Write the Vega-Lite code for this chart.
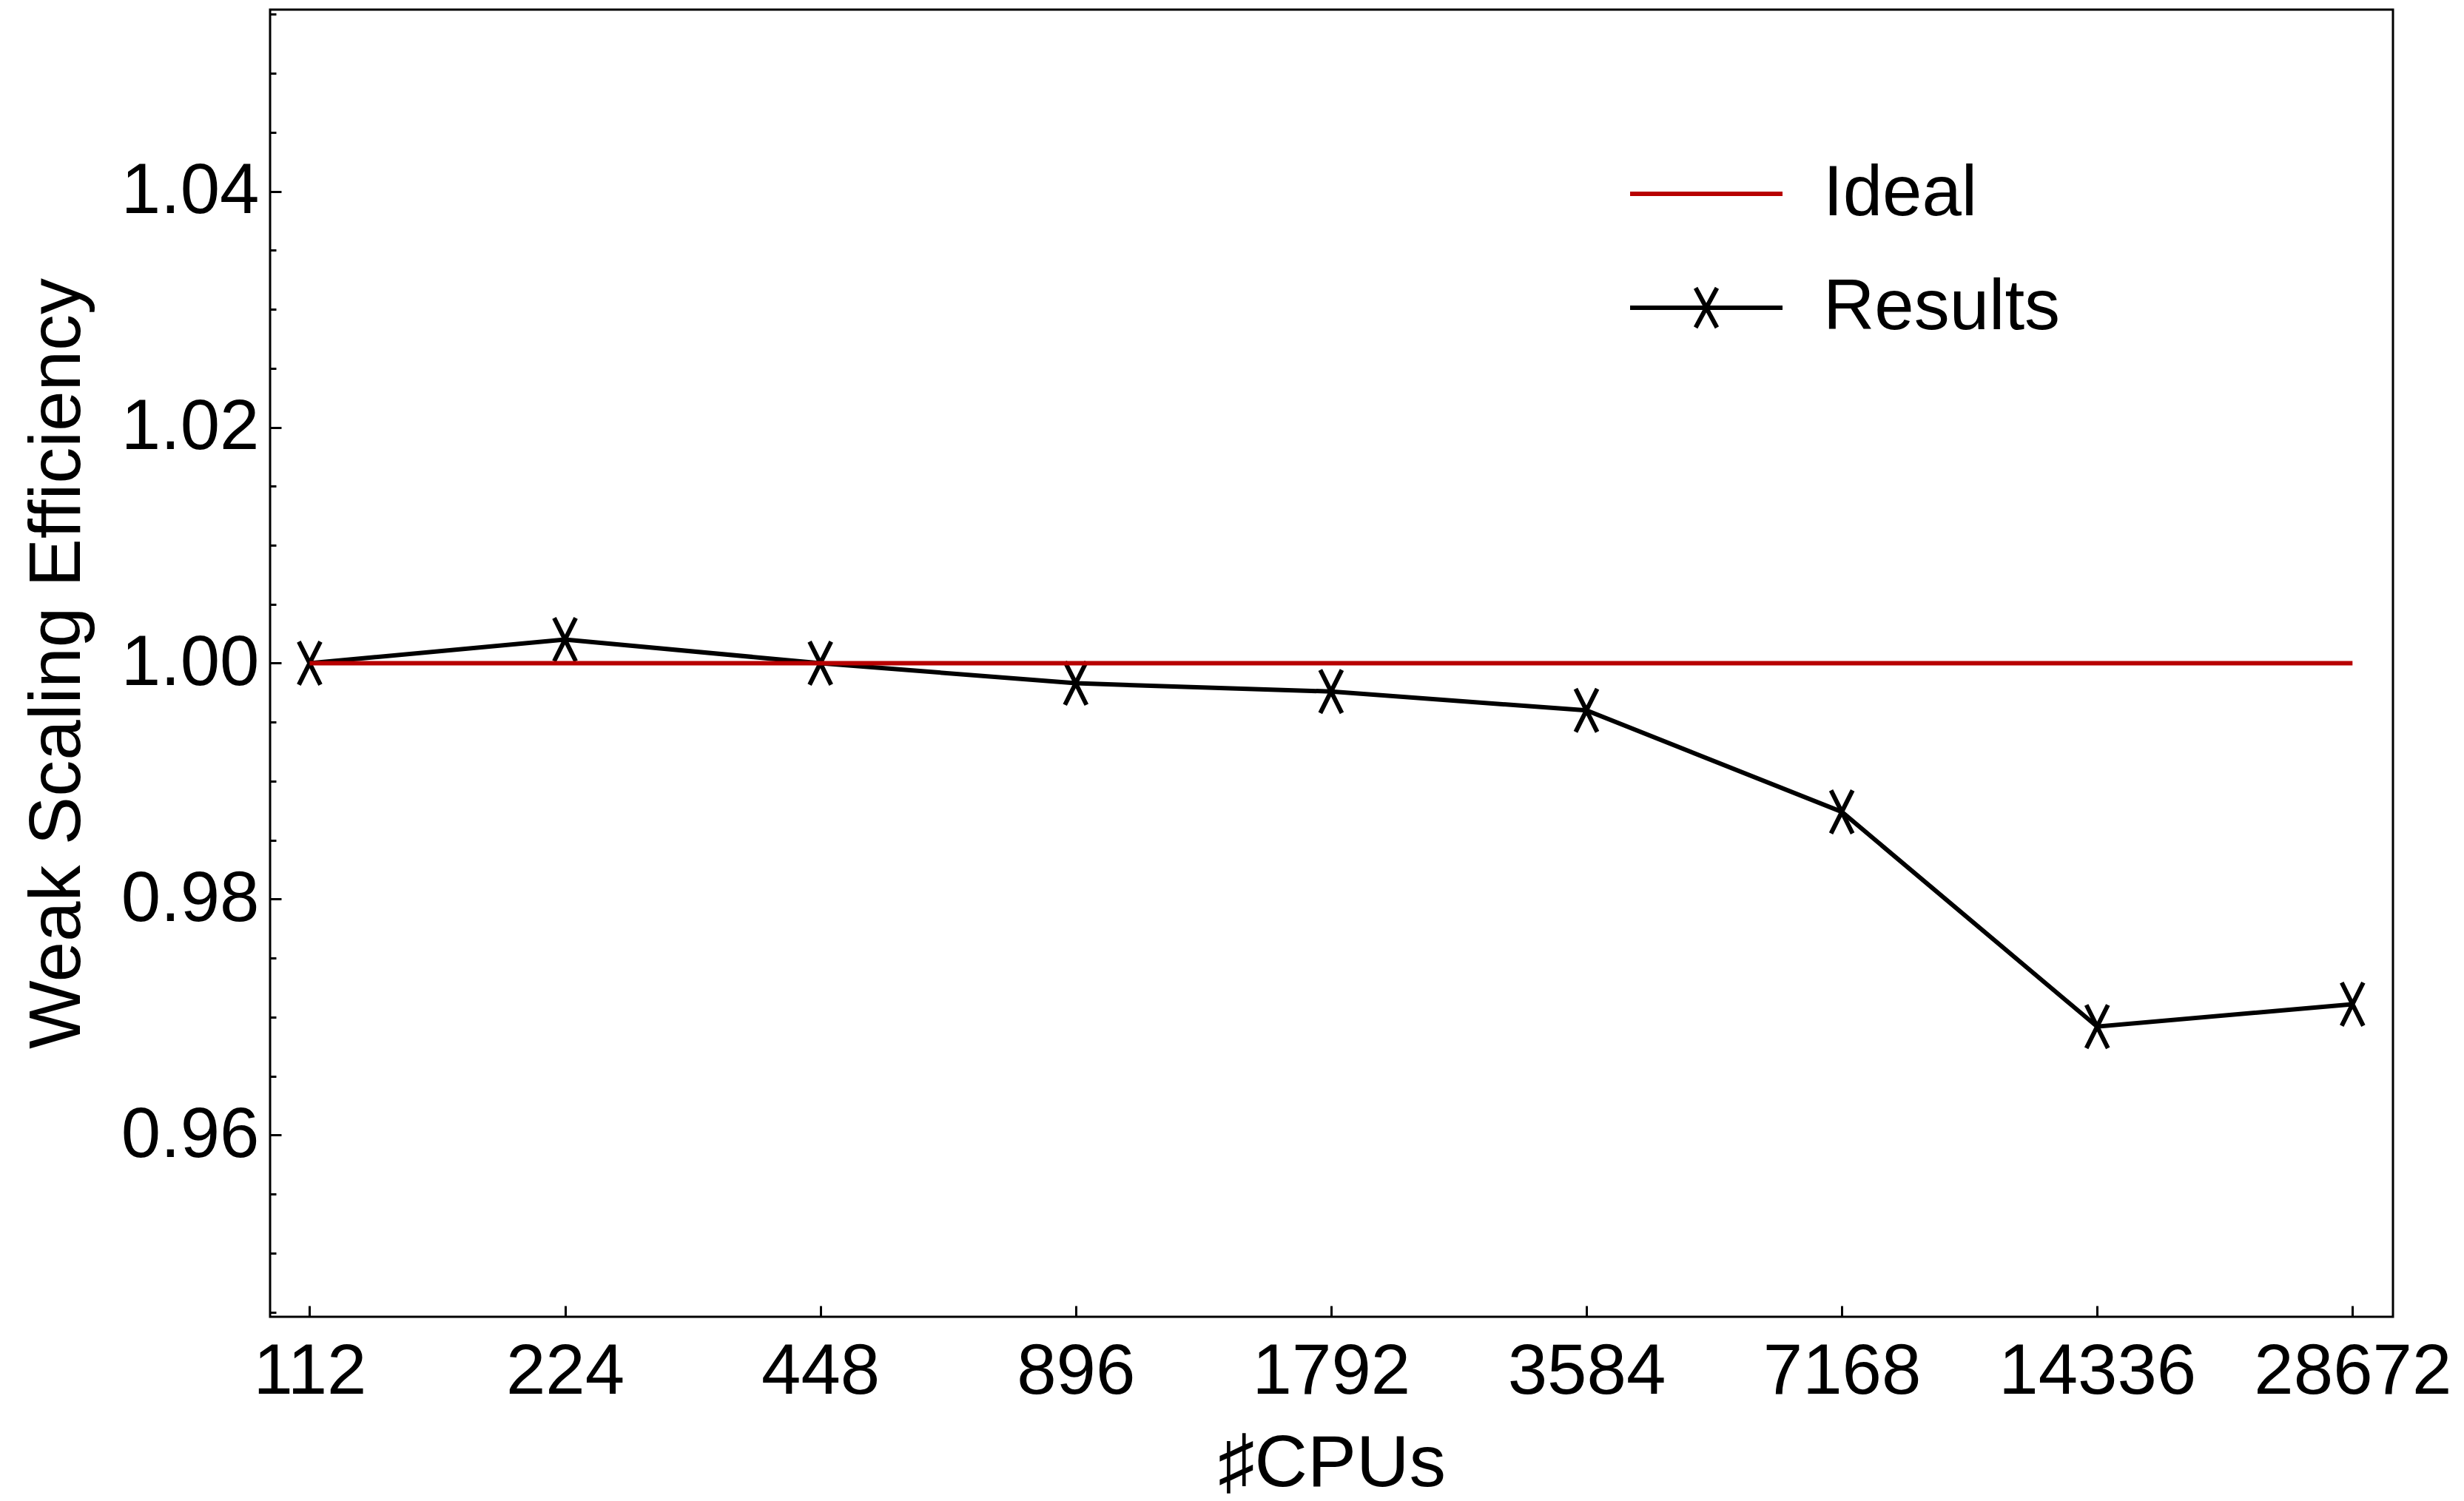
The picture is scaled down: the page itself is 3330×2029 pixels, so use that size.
{
  "$schema": "https://vega.github.io/schema/vega-lite/v6.json",
  "width": 2869,
  "height": 1767,
  "autosize": {"type": "none"},
  "padding": {"left": 365, "top": 13, "right": 96, "bottom": 249},
  "background": "white",
  "config": {
    "view": {"stroke": "black", "strokeWidth": 3},
    "font": "Liberation Sans",
    "axis": {"labelFont": "Liberation Sans", "titleFont": "Liberation Sans", "labelColor": "black", "titleColor": "black", "tickColor": "black", "grid": false, "domain": false, "labelLimit": 0, "titleLimit": 0},
    "legend": {"labelFont": "Liberation Sans", "labelLimit": 0}
  },
  "data": {
    "values": [
      {"cpus": 112, "series": "Results", "eff": 1.0},
      {"cpus": 224, "series": "Results", "eff": 1.002},
      {"cpus": 448, "series": "Results", "eff": 1.0},
      {"cpus": 896, "series": "Results", "eff": 0.9983},
      {"cpus": 1792, "series": "Results", "eff": 0.9976},
      {"cpus": 3584, "series": "Results", "eff": 0.996},
      {"cpus": 7168, "series": "Results", "eff": 0.9874},
      {"cpus": 14336, "series": "Results", "eff": 0.9692},
      {"cpus": 28672, "series": "Results", "eff": 0.9711},
      {"cpus": 112, "series": "Ideal", "eff": 1.0},
      {"cpus": 224, "series": "Ideal", "eff": 1.0},
      {"cpus": 448, "series": "Ideal", "eff": 1.0},
      {"cpus": 896, "series": "Ideal", "eff": 1.0},
      {"cpus": 1792, "series": "Ideal", "eff": 1.0},
      {"cpus": 3584, "series": "Ideal", "eff": 1.0},
      {"cpus": 7168, "series": "Ideal", "eff": 1.0},
      {"cpus": 14336, "series": "Ideal", "eff": 1.0},
      {"cpus": 28672, "series": "Ideal", "eff": 1.0}
    ]
  },
  "encoding": {
    "x": {
      "field": "cpus",
      "type": "quantitative",
      "scale": {"type": "log", "base": 2, "domain": [100.6, 32000], "nice": false},
      "axis": {
        "values": [112, 224, 448, 896, 1792, 3584, 7168, 14336, 28672],
        "format": "d",
        "tickSize": -15,
        "tickWidth": 3,
        "labelFontSize": 96,
        "labelPadding": 42,
        "labelFlush": false,
        "labelOverlap": false,
        "title": "♯CPUs",
        "titleFontSize": 99,
        "titleFontWeight": "normal",
        "titleY": 228,
        "titleBaseline": "alphabetic"
      }
    },
    "y": {
      "field": "eff",
      "type": "quantitative",
      "scale": {"domain": [0.9446, 1.0554], "nice": false, "zero": false},
      "axis": {
        "orient": "left",
        "values": [0.96, 0.98, 1.0, 1.02, 1.04],
        "format": ".2f",
        "tickSize": -15,
        "tickWidth": 3,
        "labelFontSize": 96,
        "labelPadding": 30,
        "title": "Weak Scaling Efficiency",
        "titleFontSize": 98,
        "titleFontWeight": "normal",
        "titleX": -258,
        "titleBaseline": "alphabetic"
      }
    },
    "color": {
      "field": "series",
      "type": "nominal",
      "scale": {"domain": ["Ideal", "Results"], "range": ["#b80000", "black"]},
      "legend": {
        "title": null,
        "orient": "none",
        "legendX": 1835,
        "legendY": 143,
        "padding": 0,
        "labelFontSize": 96,
        "labelColor": "black",
        "labelOffset": 52,
        "symbolSize": 42436,
        "symbolStrokeWidth": 6,
        "symbolFillColor": "transparent",
        "rowPadding": -39,
        "encode": {
          "symbols": {
            "update": {
              "shape": {"signal": "datum.value === 'Results' ? 'M-1,0H1M-0.14,-0.26L0.14,0.26M-0.14,0.26L0.14,-0.26' : 'M-1,0H1'"}
            }
          }
        }
      }
    }
  },
  "layer": [
    {
      "transform": [{"filter": "datum.series === 'Results'"}],
      "mark": {"type": "line", "strokeWidth": 6}
    },
    {
      "transform": [{"filter": "datum.series === 'Results'"}],
      "mark": {"type": "point", "shape": "M-0.5,-1L0.5,1M-0.5,1L0.5,-1", "size": 3400, "filled": false, "strokeWidth": 6, "opacity": 1},
      "encoding": {
        "y": {"field": "eff", "type": "quantitative", "axis": null}
      }
    },
    {
      "transform": [{"filter": "datum.series === 'Ideal'"}],
      "mark": {"type": "line", "strokeWidth": 6},
      "encoding": {
        "y": {
          "field": "eff",
          "type": "quantitative",
          "axis": {
            "orient": "left",
            "values": [0.945, 0.95, 0.955, 0.965, 0.97, 0.975, 0.985, 0.99, 0.995, 1.005, 1.01, 1.015, 1.025, 1.03, 1.035, 1.045, 1.05, 1.055],
            "labels": false,
            "tickSize": -8,
            "tickWidth": 3,
            "title": null
          }
        }
      }
    }
  ],
  "resolve": {"axis": {"y": "independent"}}
}
